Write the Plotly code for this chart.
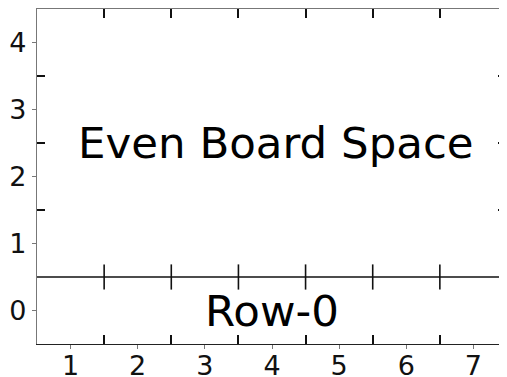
import plotly.graph_objects as go

# board layout values
col_ticks = [1, 2, 3, 4, 5, 6, 7]
row_ticks = [0, 1, 2, 3, 4]
col_edges = [1.5, 2.5, 3.5, 4.5, 5.5, 6.5]
row_edges = [1.5, 2.5, 3.5]
divider_y = [0.5]
x_range = [0.5, 7.5]
y_range = [-0.5, 4.5]
labels = ["Even Board Space", "Row-0"]
label_x = [4, 4]
label_y = [2.5, 0]

font = "DejaVu Sans"

fig = go.Figure()

# divider line between the board and row 0
fig.add_shape(type="line", xref="x", yref="y",
              x0=x_range[0], x1=x_range[1], y0=divider_y[0], y1=divider_y[0],
              line=dict(color="#111", width=1.6))

# column ticks crossing the divider
fig.add_trace(go.Scatter(
    x=col_edges, y=divider_y * len(col_edges), mode="markers",
    marker=dict(symbol="line-ns", size=18, line=dict(color="#111", width=1.6)),
    hoverinfo="skip", showlegend=False))

for i, (txt, tx, ty) in enumerate(zip(labels, label_x, label_y)):
    fig.add_annotation(x=tx, y=ty, text=txt, showarrow=False,
                       xshift=4 if i == 0 else 0,
                       font=dict(family=font, size=43.5, color="#000"))

# top and right axes just carry the inward minor ticks
fig.add_trace(go.Scatter(x=[None], y=[None], xaxis="x2", yaxis="y2",
                         showlegend=False, hoverinfo="skip"))

# the page body adds 8px on the left and top, so the figure is a bit smaller
fig.update_layout(
    width=499, height=369,
    margin=dict(l=29, r=0, t=1, b=33),
    plot_bgcolor="white", paper_bgcolor="white",
    showlegend=False,
    xaxis=dict(range=x_range, tickvals=col_ticks, ticks="outside", ticklen=4,
               tickcolor="#777", tickwidth=1, showline=True, linecolor="#222",
               linewidth=1.4, showgrid=False, zeroline=False, automargin=False,
               ticklabelstandoff=-7,
               tickfont=dict(family=font, size=27, color="#111"),
               minor=dict(tickvals=col_edges, ticks="inside", ticklen=9,
                          tickcolor="#111", tickwidth=1.6)),
    yaxis=dict(range=y_range, tickvals=row_ticks, ticks="outside", ticklen=4,
               tickcolor="#777", tickwidth=1, showline=True, linecolor="#777",
               linewidth=1.2, showgrid=False, zeroline=False, automargin=False,
               tickfont=dict(family=font, size=27, color="#111"),
               minor=dict(tickvals=row_edges, ticks="inside", ticklen=8,
                          tickcolor="#111", tickwidth=1.6)),
    xaxis2=dict(range=x_range, overlaying="x", side="top", anchor="y2",
                tickvals=col_edges, ticks="inside", ticklen=9, tickcolor="#111",
                tickwidth=1.6, showticklabels=False, showline=True,
                linecolor="#777", linewidth=1.2, showgrid=False, zeroline=False,
                automargin=False),
    yaxis2=dict(range=y_range, overlaying="y", side="right", anchor="x2",
                tickvals=row_edges, ticks="inside", ticklen=9, tickcolor="#111",
                tickwidth=1.6, showticklabels=False, showline=False,
                showgrid=False, zeroline=False, automargin=False),
)

fig.write_html("out.html")
